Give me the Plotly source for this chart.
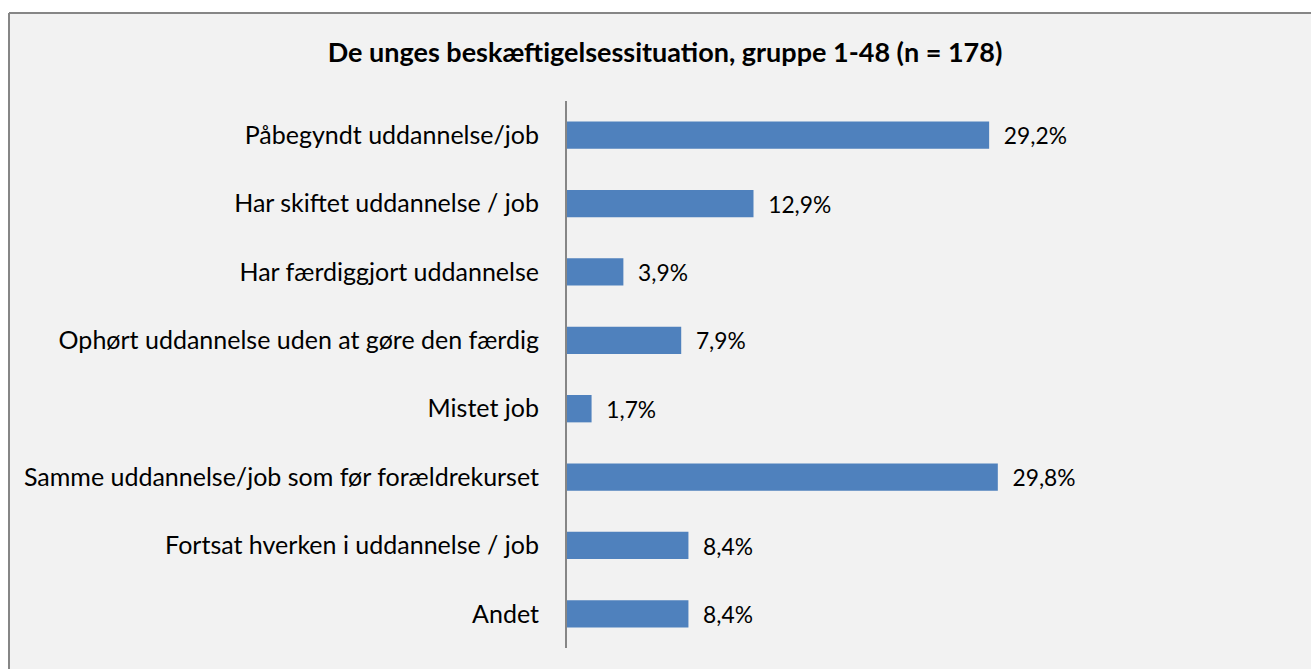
import plotly.graph_objects as go

# Kategorier og andele (%)
kategorier = [
    "Påbegyndt uddannelse/job",
    "Har skiftet uddannelse / job",
    "Har færdiggjort uddannelse",
    "Ophørt uddannelse uden at gøre den færdig",
    "Mistet job",
    "Samme uddannelse/job som før forældrekurset",
    "Fortsat hverken i uddannelse / job",
    "Andet",
]
andele = [29.2, 12.9, 3.9, 7.9, 1.7, 29.8, 8.4, 8.4]
etiketter = ["\u00a0\u00a0" + f"{v:.1f}%".replace(".", ",") for v in andele]

FONT = "Lato, 'Open Sans', sans-serif"
W, H = 1311, 669
L, R, T, B = 567, 238, 101, 21
PW, PH = W - L - R, H - T - B

fig = go.Figure()
fig.add_trace(
    go.Bar(
        y=kategorier,
        x=andele,
        orientation="h",
        marker=dict(color="#4f81bd", line=dict(width=0)),
        text=etiketter,
        textposition="outside",
        textfont=dict(family=FONT, size=25, color="#000000"),
        cliponaxis=False,
        showlegend=False,
    )
)

# Baggrundsflade (uden kant) der fylder hele figuren fra rammen og ud
fig.add_shape(
    type="rect", xref="paper", yref="paper",
    x0=(9 - L) / PW, x1=(W + 40 - L) / PW,
    y0=-0.2, y1=(H - B - 13) / PH,
    fillcolor="#f2f2f2", line=dict(width=0),
    layer="below",
)
# Rammens venstre og øverste kant
fig.add_shape(
    type="line", xref="paper", yref="paper",
    x0=(9 - L) / PW, x1=(9 - L) / PW,
    y0=-0.2, y1=(H - B - 13) / PH,
    line=dict(color="#868686", width=2), layer="below",
)
fig.add_shape(
    type="line", xref="paper", yref="paper",
    x0=(9 - L) / PW, x1=(W + 40 - L) / PW,
    y0=(H - B - 13) / PH, y1=(H - B - 13) / PH,
    line=dict(color="#868686", width=2), layer="below",
)

fig.update_layout(
    width=W,
    height=H,
    paper_bgcolor="#ffffff",
    plot_bgcolor="rgba(0,0,0,0)",
    margin=dict(l=L, r=R, t=T, b=B, autoexpand=False),
    bargap=0.6,
    title=dict(
        text="<b>De unges beskæftigelsessituation, gruppe 1-48 (n = 178)</b>",
        x=665 / W, xanchor="center",
        y=1 - 53 / H, yanchor="middle",
        font=dict(family=FONT, size=27, color="#000000"),
    ),
    xaxis=dict(
        range=[0, 35],
        visible=False,
        showgrid=False,
        zeroline=False,
    ),
    yaxis=dict(
        autorange="reversed",
        automargin=False,
        showgrid=False,
        zeroline=False,
        showline=True,
        linecolor="#868686",
        linewidth=2,
        ticks="",
        ticklabelstandoff=21,
        tickfont=dict(family=FONT, size=25, color="#000000"),
    ),
)

# fjern sidens standardmargin, scrollbars og modebar
fig.write_html(
    "out.html",
    config={"displayModeBar": False},
    post_script=(
        "document.body.style.margin='0';"
        "document.body.style.overflow='hidden';"
        "document.documentElement.style.overflow='hidden';"
    ),
)
